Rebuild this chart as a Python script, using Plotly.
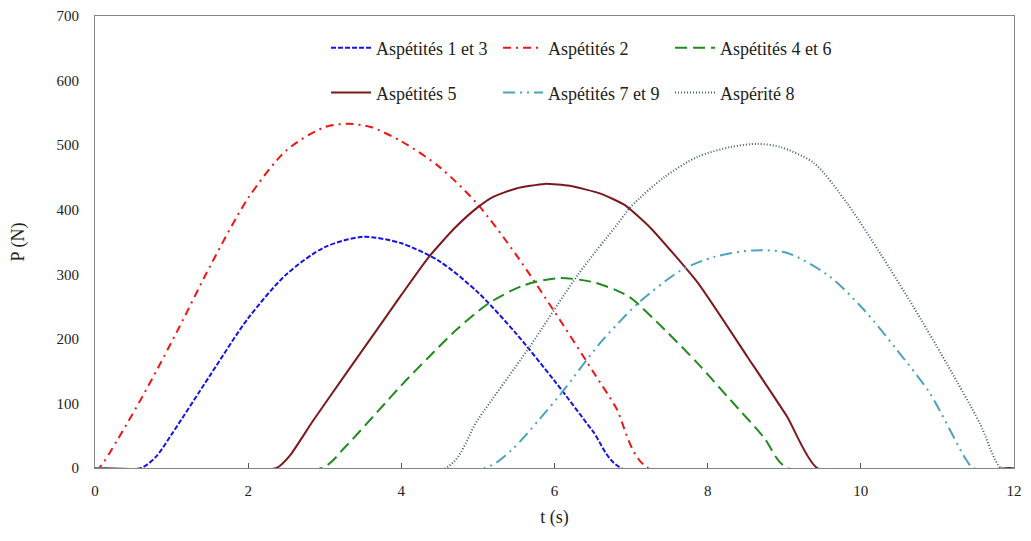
import plotly.graph_objects as go

# ---- data ----
t_13 = [0, 0.6, 0.8, 1.0, 1.5, 2.0, 2.5, 3.0, 3.5, 4.0, 4.5, 5.0, 5.5, 6.0, 6.5, 6.87, 12]
p_13 = [0, 0, 18, 52, 143, 232, 300, 342, 358, 348, 320, 272, 208, 135, 57, 0, 0]

t_2 = [0, 0.05, 0.3, 0.7, 1.1, 1.5, 2.0, 2.5, 3.0, 3.3, 3.6, 4.0, 4.5, 5.0, 5.5, 6.0, 6.5, 6.8, 7.22, 12]
p_2 = [0, 0, 45, 128, 218, 312, 418, 492, 528, 533, 528, 506, 466, 408, 330, 242, 150, 94, 0, 0]

t_46 = [0, 2.96, 3.27, 3.71, 4.0, 4.36, 4.7, 5.14, 5.6, 6.05, 6.5, 6.83, 7.0, 7.44, 7.87, 8.3, 8.73, 9.04, 12]
p_46 = [0, 0, 33, 90, 128, 172, 212, 255, 283, 294, 288, 274, 263, 214, 162, 105, 48, 0, 0]

t_5 = [0, 2.37, 2.55, 2.84, 3.27, 3.71, 4.0, 4.36, 4.7, 5.0, 5.2, 5.5, 5.87, 6.2, 6.6, 6.92, 7.26, 7.87, 8.52, 9.04, 9.43, 12]
p_5 = [0, 0, 20, 72, 145, 219, 268, 327, 372, 404, 420, 433, 440, 437, 425, 407, 371, 287, 172, 79, 0, 0]

t_79 = [0, 5.09, 5.44, 5.8, 6.09, 6.57, 6.83, 7.09, 7.65, 8.09, 8.6, 9.04, 9.6, 10.04, 10.47, 10.9, 11.38, 11.47, 12]
p_79 = [0, 0, 28, 75, 116, 190, 224, 255, 306, 327, 337, 333, 296, 245, 183, 116, 12, 0, 0]

t_8 = [0, 4.58, 5.0, 5.66, 6.31, 6.83, 7.0, 7.44, 7.87, 8.3, 8.65, 8.95, 9.39, 9.82, 10.25, 10.69, 11.12, 11.55, 11.83, 12]
p_8 = [0, 0, 75, 185, 300, 379, 405, 451, 482, 497, 502, 497, 472, 410, 333, 249, 162, 70, 0, 0]

names = ["Aspétités 1 et 3", "Aspétités 2", "Aspétités 4 et 6",
         "Aspétités 5", "Aspétités 7 et 9", "Aspérité 8"]
x_ticks = [0, 2, 4, 6, 8, 10, 12]
y_ticks = [0, 100, 200, 300, 400, 500, 600, 700]

FONT = "Liberation Serif, Times New Roman, serif"

series = [
    (t_13, p_13, names[0], "#1414E6", "5px,2px", 0.8, "legend"),
    (t_2, p_2, names[1], "#F01414", "8px,5px,2px,5px", 0.8, "legend"),
    (t_46, p_46, names[2], "#1E8C1E", "12px,6px", 0.8, "legend"),
    (t_5, p_5, names[3], "#7B1A1C", "solid", 0.5, "legend2"),
    (t_79, p_79, names[4], "#4BA3BE", "12px,5px,2px,5px,2px,5px", 0.8, "legend2"),
    (t_8, p_8, names[5], "#3D5F6E", "1px,2px", 0.8, "legend2"),
]

fig = go.Figure()
for tx, py, nm, col, dash, sm, lg in series:
    fig.add_trace(go.Scatter(x=tx, y=py, mode="lines", name=nm,
                             line=dict(color=col, width=2, dash=dash, shape="spline", smoothing=sm),
                             legend=lg))

leg_common = dict(orientation="h", xanchor="left", yanchor="middle", itemwidth=40,
                  entrywidth=117, entrywidthmode="pixels", bgcolor="rgba(0,0,0,0)",
                  font=dict(family=FONT, size=18, color="#222"), traceorder="normal")

fig.update_layout(
    width=1015, height=520,
    margin=dict(l=87, r=9, t=8, b=60, autoexpand=False),
    paper_bgcolor="white", plot_bgcolor="white",
    font=dict(family=FONT, size=15, color="#222"),
    legend=dict(x=0.2514, y=0.929, **leg_common),
    legend2=dict(x=0.2514, y=0.830, **leg_common),
    showlegend=True,
)

fig.update_xaxes(range=[0, 12], tickvals=x_ticks, ticktext=[str(v) for v in x_ticks],
                 showgrid=False, zeroline=False, showline=True, linecolor="#868686",
                 linewidth=1, mirror=True, ticks="inside", ticklen=5, tickcolor="#555",
                 ticklabelstandoff=9, automargin=False, ticklabeloverflow="allow",
                 title=dict(text="t (s)", font=dict(family=FONT, size=18, color="#222"), standoff=21))
fig.update_yaxes(range=[0, 700], tickvals=y_ticks, ticktext=[str(v) for v in y_ticks],
                 showgrid=False, zeroline=False, showline=True, linecolor="#868686",
                 linewidth=1, mirror=True, ticks="", ticklabelstandoff=12, automargin=False,
                 title=dict(text="P (N)", font=dict(family=FONT, size=18, color="#222"), standoff=32))

fig.write_html("out.html")
